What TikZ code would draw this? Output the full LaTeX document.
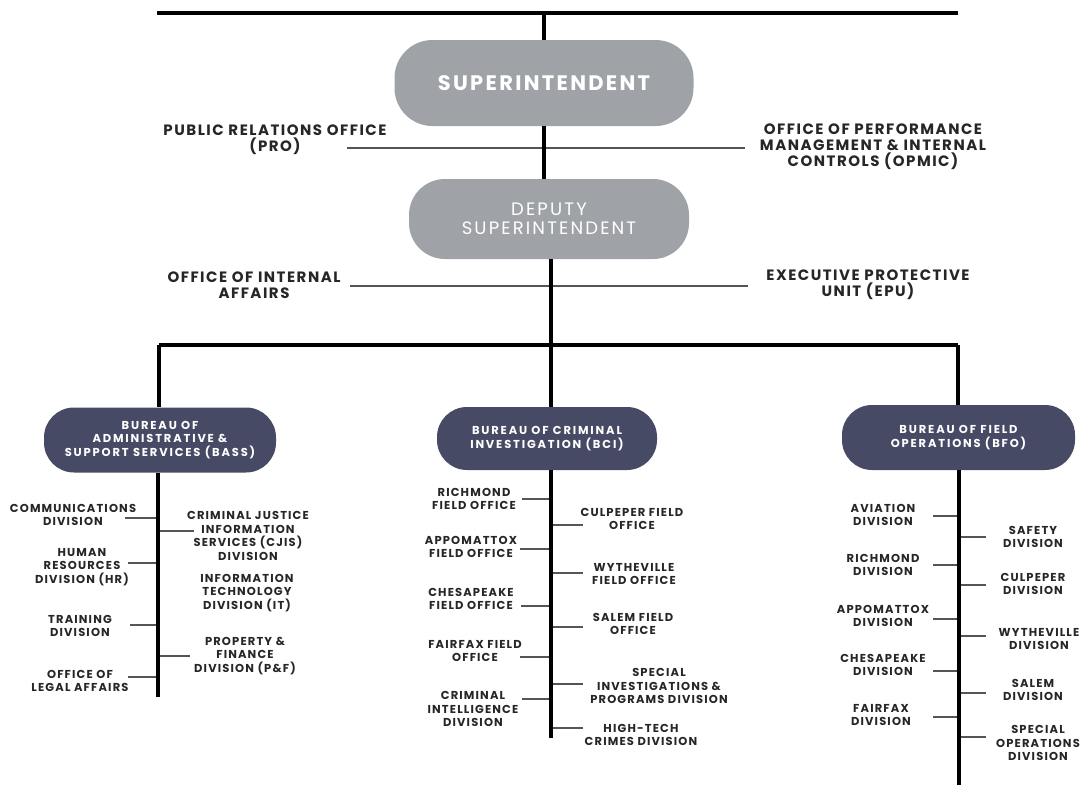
\documentclass[tikz,border=0pt]{standalone}
\usepackage{fontspec}
\setmainfont{Poppins}
\newfontfamily\itemfont[LetterSpace=10]{Poppins}
\newfontfamily\bureaufont[LetterSpace=16]{Poppins}
\newfontfamily\officefont[LetterSpace=10]{Poppins}
\newfontfamily\superfont[LetterSpace=11]{Poppins}
\newfontfamily\deputyfont[LetterSpace=12]{Poppins}
\usetikzlibrary{calc}
\definecolor{pillgray}{HTML}{9FA2A7}
\definecolor{pillnavy}{HTML}{474A65}
\definecolor{inkdark}{HTML}{262626}
\definecolor{twig}{HTML}{555555}

\begin{document}
\begin{tikzpicture}[
x=1pt,
y=-1pt,
trunk/.style={
  line width=4pt,
  black
  },
branch/.style={
  line width=1.3pt,
  twig
  },
toppill/.style={
  fill=pillgray,
  text=white,
  rounded corners=38pt,
  minimum width=299pt,
  minimum height=86pt,
  font=\superfont\bfseries\fontsize{21}{24}\selectfont
  },
deppill/.style={
  fill=pillgray,
  text=white,
  align=center,
  rounded corners=36pt,
  minimum width=280pt,
  minimum height=80pt,
  font=\deputyfont\fontsize{18}{19}\selectfont
  },
bureau/.style={
  fill=pillnavy,
  text=white,
  align=center,
  rounded corners=30pt,
  minimum height=65pt,
  font=\bureaufont\bfseries\fontsize{11.5}{13.5}\selectfont
  },
office/.style={
  text=inkdark,
  align=center,
  inner sep=0pt,
  font=\officefont\bfseries\fontsize{15}{16}\selectfont
  },
item/.style={
  text=inkdark,
  align=center,
  inner sep=0pt,
  font=\itemfont\bfseries\fontsize{11.5}{13.5}\selectfont
  }
]
\useasboundingbox (0,0) rectangle (1085,785);

% top of the chart
\node[toppill] (super) at (544,83) {SUPERINTENDENT};
\node[deppill] (deputy) at (549,219) {DEPUTY\\SUPERINTENDENT};
\coordinate (top-l) at (157,13);
\coordinate (top-r) at (958,13);

\node[office] (pro) at (275,140) {PUBLIC RELATIONS OFFICE\\(PRO)};
\node[office] (opmic) at (873,147) {OFFICE OF PERFORMANCE\\MANAGEMENT \& INTERNAL\\CONTROLS (OPMIC)};
\node[office] (ia) at (254,285) {OFFICE OF INTERNAL\\AFFAIRS};
\node[office] (epu) at (868,285) {EXECUTIVE PROTECTIVE\\UNIT (EPU)};
\coordinate (pro-end) at (347,148);
\coordinate (opmic-end) at (745,148);
\coordinate (ia-end) at (350,286);
\coordinate (epu-end) at (748,286);

\draw[branch] (pro-end) -- (opmic-end);
\draw[branch] (ia-end) -- (epu-end);

\draw[trunk] (top-l) -- (top-r);
\draw[trunk] (top-l -| super.north) -- (super.north);
\draw[trunk] (super.south) -- (super.south |- deputy.north);

% bureaus
\node[bureau, minimum width=232pt] (bass) at (160,440) {BUREAU OF\\ADMINISTRATIVE \&\\SUPPORT SERVICES (BASS)};
\node[bureau, minimum width=220pt, minimum height=63pt] (bci) at (547,438.5) {BUREAU OF CRIMINAL\\INVESTIGATION (BCI)};
\node[bureau, minimum width=233pt] (bfo) at (958.5,437.5) {BUREAU OF FIELD\\OPERATIONS (BFO)};

\coordinate (bar-l) at (159,345);
\coordinate (bar-r) at (958,345);
\coordinate (bass-foot) at (158,697);
\coordinate (bci-foot) at (551,738);
\coordinate (bfo-foot) at (959,785);

\draw[trunk] (deputy.south -| bci-foot) -- (bci-foot |- bar-l);
\draw[trunk] (bar-l) -- (bar-r);
\draw[trunk] (bar-l) -- (bar-l |- bass.north);
\draw[trunk] (bci-foot |- bar-l) -- (bci-foot |- bci.north);
\draw[trunk] (bar-r) -- (bar-r |- bfo.north);

% BASS divisions
\foreach \nm/\x/\y/\ly/\ex/\txt in {
  comm/73/515/518/125/{COMMUNICATIONS\\DIVISION},
  hr/82/567/563/128/{HUMAN\\RESOURCES\\DIVISION (HR)},
  train/80/626/625/130/{TRAINING\\DIVISION},
  legal/80/681/677/128/{OFFICE OF\\LEGAL AFFAIRS},
  cjis/248/536/531/194/{CRIMINAL JUSTICE\\INFORMATION\\SERVICES (CJIS)\\DIVISION},
  pf/245/656/656/190/{PROPERTY \&\\FINANCE\\DIVISION (P\&F)}}
{
  \node[item] (\nm) at (\x,\y) {\txt};
  \coordinate (\nm-end) at (\ex,\ly);
  \draw[branch] (\nm-end) -- (\nm-end -| bass-foot);
}
\node[item] (it) at (247,593) {INFORMATION\\TECHNOLOGY\\DIVISION (IT)};
\draw[trunk] (bass-foot |- bass.south) -- (bass-foot);

% BCI offices
\foreach \nm/\x/\y/\ly/\ex/\txt in {
  rfo/474/499/499/522/{RICHMOND\\FIELD OFFICE},
  afo/471/547/549/520/{APPOMATTOX\\FIELD OFFICE},
  cfo/471/599/606/521/{CHESAPEAKE\\FIELD OFFICE},
  ffo/475/651/657/520/{FAIRFAX FIELD\\OFFICE},
  cid/473/709/699/522/{CRIMINAL\\INTELLIGENCE\\DIVISION},
  culfo/632/519/525/583/{CULPEPER FIELD\\OFFICE},
  wfo/634/574/573/583/{WYTHEVILLE\\FIELD OFFICE},
  sfo/633/624/627/583/{SALEM FIELD\\OFFICE},
  sipd/659/686/684/583/{SPECIAL\\INVESTIGATIONS \&\\PROGRAMS DIVISION},
  htcd/641/735/728/583/{HIGH-TECH\\CRIMES DIVISION}}
{
  \node[item] (\nm) at (\x,\y) {\txt};
  \coordinate (\nm-end) at (\ex,\ly);
  \draw[branch] (\nm-end) -- (\nm-end -| bci-foot);
}
\draw[trunk] (bci-foot |- bci.south) -- (bci-foot);

% BFO divisions
\foreach \nm/\x/\y/\ly/\ex/\txt in {
  avi/883/515/516/933/{AVIATION\\DIVISION},
  rich/883/565/565/933/{RICHMOND\\DIVISION},
  appo/883/616/619/933/{APPOMATTOX\\DIVISION},
  ches/883/665/671/933/{CHESAPEAKE\\DIVISION},
  fair/881/715/717/933/{FAIRFAX\\DIVISION},
  safe/1033/537/537/986/{SAFETY\\DIVISION},
  culp/1033/584/585/986/{CULPEPER\\DIVISION},
  wyth/1039/639/636/986/{WYTHEVILLE\\DIVISION},
  salem/1033/690/693/986/{SALEM\\DIVISION},
  spops/1038/743/737/986/{SPECIAL\\OPERATIONS\\DIVISION}}
{
  \node[item] (\nm) at (\x,\y) {\txt};
  \coordinate (\nm-end) at (\ex,\ly);
  \draw[branch] (\nm-end) -- (\nm-end -| bfo-foot);
}
\draw[trunk] (bfo-foot |- bfo.south) -- (bfo-foot);
\end{tikzpicture}
\end{document}
